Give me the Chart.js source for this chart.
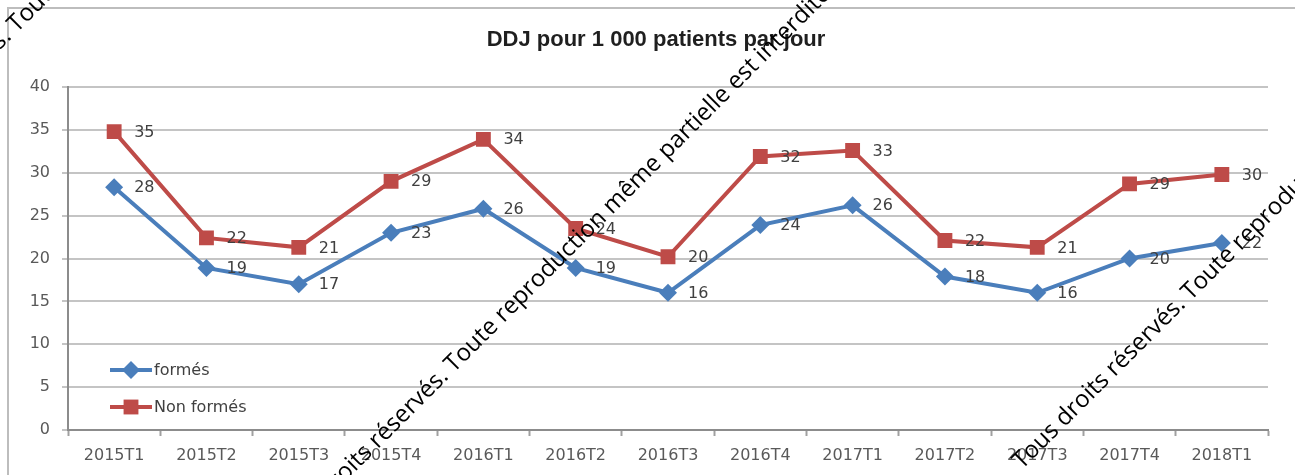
<!DOCTYPE html>
<html>
<head>
<meta charset="utf-8">
<script src="https://cdn.jsdelivr.net/npm/chart.js@4.4.1/dist/chart.umd.min.js"></script>
<style>
  body { margin: 0; background: #fff; }
  #wrap { width: 1295px; height: 475px; }
</style>
</head>
<body>
<div id="wrap"><canvas id="ddjChart" width="1295" height="475"></canvas></div>
<script>
// Données
const trimestres = ["2015T1", "2015T2", "2015T3", "2015T4", "2016T1", "2016T2", "2016T3",
  "2016T4", "2017T1", "2017T2", "2017T3", "2017T4", "2018T1"];
const formes = [28.3, 18.9, 17.0, 23.0, 25.8, 18.9, 16.0, 23.9, 26.2, 17.9, 16.0, 20.0, 21.8];
const nonFormes = [34.8, 22.4, 21.3, 29.0, 33.9, 23.5, 20.2, 31.9, 32.6, 22.1, 21.3, 28.7, 29.8];
const yTicks = [0, 5, 10, 15, 20, 25, 30, 35, 40];
const titre = "DDJ pour 1 000 patients par jour";
const filigrane = "Tous droits réservés. Toute reproduction même partielle est interdite.";

const bleu = "#4a7ebb";
const rouge = "#be4b48";
const texteGris = "#404040";
const police = "'DejaVu Sans', sans-serif";

// Cadre, fond et titre
const cadrePlugin = {
  id: "cadre",
  beforeDraw(chart) {
    const ctx = chart.ctx;
    ctx.save();
    ctx.fillStyle = "#fff";
    ctx.fillRect(0, 0, chart.width, chart.height);
    ctx.strokeStyle = "#bdbdbd";
    ctx.lineWidth = 2;
    ctx.beginPath();
    ctx.moveTo(8, chart.height);
    ctx.lineTo(8, 8);
    ctx.lineTo(chart.width, 8);
    ctx.stroke();

    ctx.font = "bold 22px 'Liberation Sans', Arial, sans-serif";
    ctx.fillStyle = "#1f1f1f";
    ctx.textAlign = "center";
    ctx.textBaseline = "middle";
    ctx.fillText(titre, 656, 40);
    ctx.restore();
  }
};

// Étiquettes de valeurs, légende et filigrane
const etiquettesPlugin = {
  id: "etiquettes",
  afterDatasetsDraw(chart) {
    const ctx = chart.ctx;
    ctx.save();
    ctx.font = "16px " + police;
    ctx.fillStyle = texteGris;
    ctx.textAlign = "left";
    ctx.textBaseline = "middle";
    chart.data.datasets.forEach((ds, i) => {
      chart.getDatasetMeta(i).data.forEach((pt, j) => {
        ctx.fillText(String(Math.round(ds.data[j])), pt.x + 20, pt.y + 1);
      });
    });

    // légende dans la zone du graphique, en bas à gauche
    const area = chart.chartArea;
    const lx = area.left + 42;
    const ys = [area.bottom - 60, area.bottom - 23];
    chart.data.datasets.forEach((ds, i) => {
      const y = ys[i];
      ctx.strokeStyle = ds.borderColor;
      ctx.lineWidth = ds.borderWidth;
      ctx.beginPath();
      ctx.moveTo(lx, y);
      ctx.lineTo(lx + 42, y);
      ctx.stroke();
      ctx.fillStyle = ds.backgroundColor;
      Chart.helpers.drawPoint(ctx, { pointStyle: ds.pointStyle, radius: ds.pointRadius, rotation: 0, borderWidth: 0 }, lx + 21, y);
      ctx.fillStyle = texteGris;
      ctx.fillText(ds.label, lx + 44, y + 1);
    });
    ctx.restore();
  },
  afterDraw(chart) {
    const ctx = chart.ctx;
    ctx.save();
    ctx.font = "24px 'Open Sans', sans-serif";
    ctx.fillStyle = "#000";
    ctx.textAlign = "left";
    ctx.textBaseline = "alphabetic";
    [[-152, 202], [285, 542], [1022, 470]].forEach(([x, y]) => {
      ctx.save();
      ctx.translate(x, y);
      ctx.rotate(-Math.PI / 4);
      ctx.fillText(filigrane, 0, 0);
      ctx.restore();
    });
    ctx.restore();
  }
};

new Chart(document.getElementById("ddjChart"), {
  type: "line",
  data: {
    labels: trimestres,
    datasets: [
      {
        label: "formés",
        data: formes,
        borderColor: bleu,
        backgroundColor: bleu,
        borderWidth: 4,
        pointStyle: "rectRot",
        pointRadius: 9,
        pointBorderWidth: 0,
        tension: 0
      },
      {
        label: "Non formés",
        data: nonFormes,
        borderColor: rouge,
        backgroundColor: rouge,
        borderWidth: 4,
        pointStyle: "rect",
        pointRadius: 10.5,
        pointBorderWidth: 0,
        tension: 0
      }
    ]
  },
  options: {
    responsive: false,
    animation: false,
    layout: { padding: { left: 18, right: 27, top: 87, bottom: 0 } },
    plugins: {
      legend: { display: false },
      tooltip: { enabled: false },
      title: { display: false }
    },
    scales: {
      x: {
        offset: true,
        grid: { offset: true, drawOnChartArea: false, tickLength: 6, tickColor: "#a0a0a0", tickWidth: 2 },
        border: { display: true, color: "#8c8c8c", width: 2 },
        ticks: { color: "#595959", font: { family: police, size: 16 }, padding: 10, maxRotation: 0, autoSkip: false },
        afterFit(scale) { scale.height = 45; }
      },
      y: {
        min: 0,
        max: 40,
        afterBuildTicks(scale) { scale.ticks = yTicks.map(v => ({ value: v })); },
        grid: { color: "#c4c4c4", lineWidth: 2, tickLength: 6, tickColor: "#c4c4c4" },
        border: { display: true, color: "#8c8c8c", width: 2 },
        ticks: { color: "#595959", font: { family: police, size: 16 }, padding: 12 },
        afterFit(scale) { scale.width = 50; }
      }
    }
  },
  plugins: [cadrePlugin, etiquettesPlugin]
});
</script>
</body>
</html>
